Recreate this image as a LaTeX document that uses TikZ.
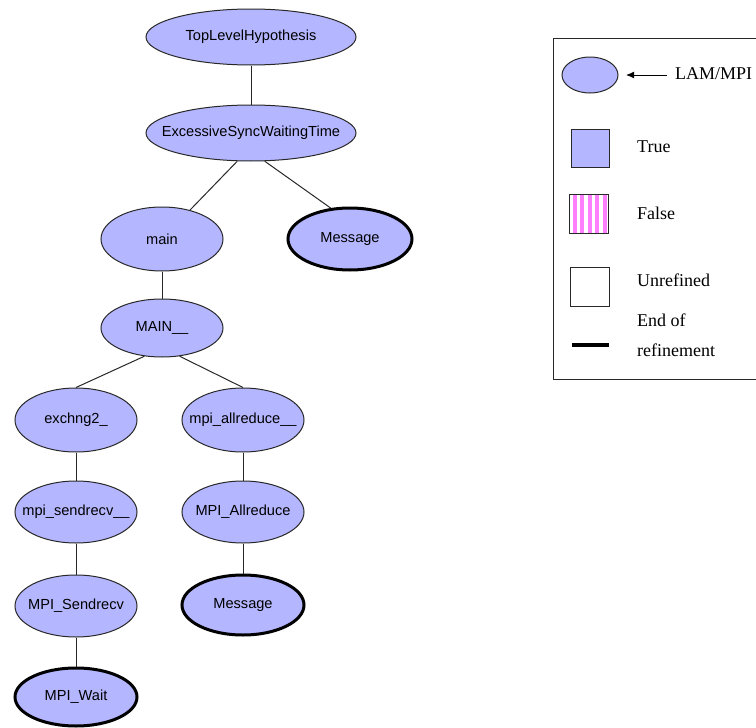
\documentclass[tikz,border=0pt]{standalone}
\usepackage{fontspec}
\setmainfont{Liberation Serif}
\newfontfamily\nodefont{Liberation Sans}
\usetikzlibrary{shapes.geometric,arrows.meta}
\definecolor{hypfill}{RGB}{180,182,255}
\definecolor{falsepink}{RGB}{255,128,255}
\definecolor{edgegray}{RGB}{40,40,40}
\tikzset{
  hyp/.style={ellipse, draw=edgegray, line width=1pt, fill=hypfill, inner xsep=-30pt, inner ysep=0pt,
    font=\nodefont\fontsize{14.6}{16}\selectfont},
  endhyp/.style={hyp, draw=black, line width=3pt},
  conn/.style={draw=edgegray, line width=1pt},
  legtext/.style={anchor=west, font=\fontsize{18}{30}\selectfont, inner sep=0pt, align=left}
}
\begin{document}
\begin{tikzpicture}[x=1pt,y=-1pt]
\useasboundingbox (0,0) rectangle (756,728);
% tree
\node[hyp, minimum width=210, minimum height=56] (top) at (251,37) {TopLevelHypothesis};
\node[hyp, minimum width=210, minimum height=56] (exc) at (251,133) {ExcessiveSyncWaitingTime};
\node[hyp, minimum width=122, minimum height=64] (main) at (162,239) {main};
\node[endhyp, minimum width=124, minimum height=62] (msg1) at (350,239) {Message};
\node[hyp, minimum width=122, minimum height=58] (MAIN) at (162,328) {MAIN\_\_};
\node[hyp, minimum width=122, minimum height=64] (ex) at (76,420) {exchng2\_};
\node[hyp, minimum width=122, minimum height=64] (ar) at (243,420) {mpi\_allreduce\_\_};
\node[hyp, minimum width=122, minimum height=62] (sr) at (76,512) {mpi\_sendrecv\_\_};
\node[hyp, minimum width=122, minimum height=62] (MA) at (243,512) {MPI\_Allreduce};
\node[hyp, minimum width=122, minimum height=62] (MS) at (76,606) {MPI\_Sendrecv};
\node[endhyp, minimum width=122, minimum height=60] (msg2) at (243,605) {Message};
\node[endhyp, minimum width=122, minimum height=58] (wait) at (76,697) {MPI\_Wait};
\draw[conn] (top) -- (exc);
\draw[conn] (exc.244) -- (main);
\draw[conn] (exc.296) -- (msg1.122);
\draw[conn] (main) -- (MAIN);
\draw[conn] (MAIN.238) -- (ex.north);
\draw[conn] (MAIN.302) -- (ar.north);
\draw[conn] (ex) -- (sr);
\draw[conn] (sr) -- (MS);
\draw[conn] (MS) -- (wait);
\draw[conn] (ar) -- (MA);
\draw[conn] (MA) -- (msg2);
% legend
\draw[line width=1pt, draw=edgegray] (760,38) -- (553,38) -- (553,379) -- (760,379);
\node[hyp, minimum width=56, minimum height=36] (lell) at (590,75) {};
\coordinate (larrstart) at (667,75);
\coordinate (larrend) at (626,75);
\node[legtext] (llam) at (675,74) {LAM/MPI};
\draw[-{Latex[length=8pt,width=7pt]}, line width=1pt] (larrstart) -- (larrend);
\node[draw=edgegray, line width=1pt, fill=hypfill, minimum size=38, inner sep=0pt] (ltrue) at (590,148) {};
\node[legtext] (ltruet) at (637,147) {True};
\node[draw=edgegray, line width=1pt, minimum size=39, inner sep=0pt] (lfalse) at (589,214) {};
\foreach \i in {0,...,4} {
  \fill[falsepink] (572.5+\i*7.5,195) rectangle (576.5+\i*7.5,233);
}
\node[legtext] (lfalset) at (637,213) {False};
\node[draw=edgegray, line width=1pt, minimum size=39, inner sep=0pt] (lunref) at (590,287) {};
\node[legtext] (lunreft) at (637,280) {Unrefined};
\coordinate (lend1) at (572,345);
\coordinate (lend2) at (609,345);
\draw[line width=3.5pt] (lend1) -- (lend2);
\node[legtext] (lendt) at (637,335) {End of\\refinement};
\end{tikzpicture}
\end{document}
